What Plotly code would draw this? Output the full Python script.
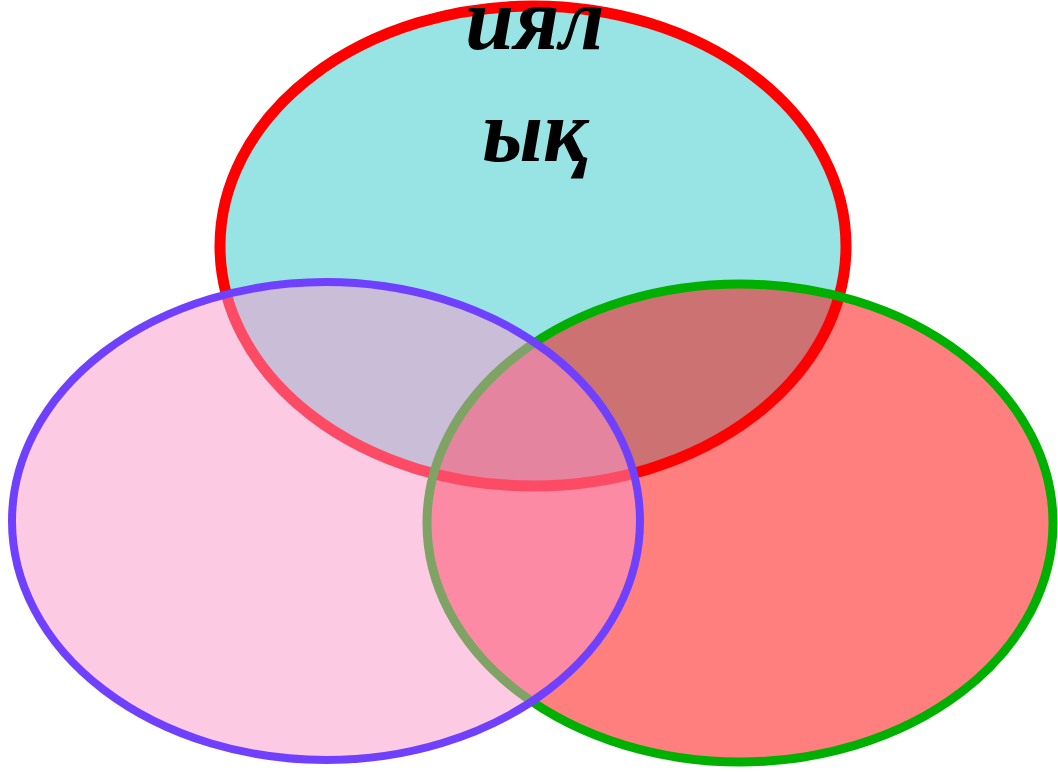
import plotly.graph_objects as go

# Data
set_names = ["top", "right", "left"]
label_lines = ["иял", "ық"]

# Geometry (pixel coordinates) and styles
centers_x = [533, 740, 326]
centers_y = [246, 523, 521]
radii_x = [313, 313, 314]
radii_y = [240, 239, 239]
fills = ["rgb(152,228,228)", "rgba(255,0,0,0.5)", "rgba(252,150,202,0.5)"]
strokes = ["#ff0000", "#00b000", "#7040ff"]
stroke_w = [11, 9, 8]

label_x = [534, 536]
label_y = [19, 131]

W, H = 1058, 772
fig = go.Figure()
fig.add_trace(go.Scatter(x=[0, W], y=[0, H], mode="markers",
                         marker=dict(opacity=0), hoverinfo="skip", showlegend=False))

for i, name in enumerate(set_names):
    fig.add_shape(type="circle", xref="x", yref="y",
                  x0=centers_x[i] - radii_x[i], x1=centers_x[i] + radii_x[i],
                  y0=centers_y[i] - radii_y[i], y1=centers_y[i] + radii_y[i],
                  fillcolor=fills[i], line=dict(color=strokes[i], width=stroke_w[i]),
                  layer="above", name=name)

for t, x, y in zip(label_lines, label_x, label_y):
    fig.add_annotation(x=x, y=y, xref="x", yref="y", text=f"<b><i>{t}</i></b>",
                       showarrow=False, xanchor="center", yanchor="middle",
                       font=dict(family="Liberation Serif, DejaVu Serif, serif",
                                 size=88, color="black"))

fig.update_xaxes(range=[0, W], visible=False, fixedrange=True)
fig.update_yaxes(range=[H, 0], visible=False, fixedrange=True)
fig.update_layout(width=W, height=H, margin=dict(l=0, r=0, t=0, b=0),
                  plot_bgcolor="white", paper_bgcolor="white", showlegend=False,
                  hovermode=False)

fig.write_html("out.html", config={"displayModeBar": False, "staticPlot": True},
               post_script="document.body.style.margin='0';document.body.style.overflow='hidden';")
